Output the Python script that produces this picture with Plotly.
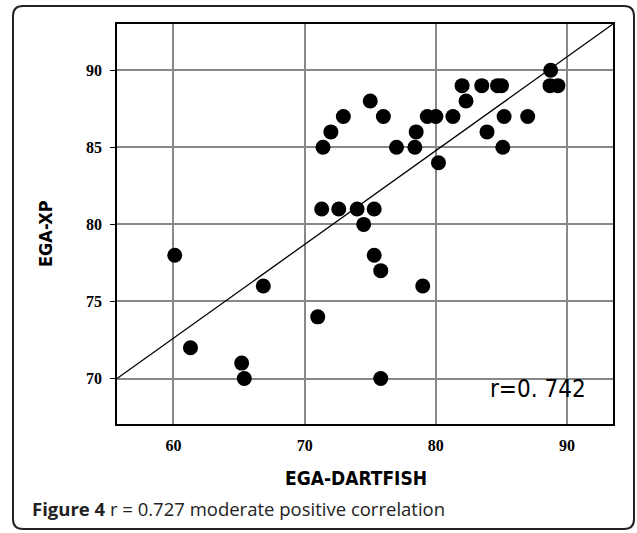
import plotly.graph_objects as go

# Data
ega_dartfish = [60.1, 61.3, 65.2, 65.4, 66.85, 71.0, 71.3, 71.4, 72.0, 72.6,
                72.95, 74.0, 74.5, 75.0, 75.3, 75.3, 75.8, 75.8, 76.0, 77.0,
                78.4, 78.5, 79.0, 79.35, 80.0, 80.2, 81.3, 82.0, 82.3, 83.5,
                83.9, 84.7, 85.0, 85.2, 85.1, 87.0, 88.75, 88.7, 89.3]
ega_xp = [78, 72, 71, 70, 76, 74, 81, 85, 86, 81,
          87, 81, 80, 88, 81, 78, 77, 70, 87, 85,
          85, 86, 76, 87, 87, 84, 87, 89, 88, 89,
          86, 89, 89, 87, 85, 87, 90, 89, 89]
fit_x = [55.7, 93.5]
fit_y = [70.0, 93.0]
x_ticks = [60, 70, 80, 90]
y_ticks = [70, 75, 80, 85, 90]

W, H = 637, 533
L, R, T, B = 117, 24, 24, 109
PW, PH = W - L - R, H - T - B


def px(x):
    return (x - L) / PW


def py(y):
    return (H - B - y) / PH


fig = go.Figure()
fig.add_trace(go.Scatter(x=fit_x, y=fit_y, mode="lines",
                         line=dict(color="black", width=1.3),
                         hoverinfo="skip", showlegend=False))
fig.add_trace(go.Scatter(x=ega_dartfish, y=ega_xp, mode="markers",
                         marker=dict(color="black", size=15),
                         showlegend=False))

# rounded frame around whole figure
x0, x1, y0, y1, r = 13, 634, 6, 529, 10
path = (f"M {px(x0+r)},{py(y0)} L {px(x1-r)},{py(y0)} Q {px(x1)},{py(y0)} {px(x1)},{py(y0+r)} "
        f"L {px(x1)},{py(y1-r)} Q {px(x1)},{py(y1)} {px(x1-r)},{py(y1)} "
        f"L {px(x0+r)},{py(y1)} Q {px(x0)},{py(y1)} {px(x0)},{py(y1-r)} "
        f"L {px(x0)},{py(y0+r)} Q {px(x0)},{py(y0)} {px(x0+r)},{py(y0)} Z")
fig.add_shape(type="path", path=path, xref="paper", yref="paper",
              line=dict(color="#222", width=2), layer="below")

cond = "DejaVu Sans Condensed, Liberation Sans Narrow, sans-serif"
fig.add_annotation(text="EGA-DARTFISH", xref="paper", yref="paper",
                   x=px(356), y=py(478), xanchor="center", yanchor="middle",
                   showarrow=False,
                   font=dict(family=cond, size=19, weight="bold", color="black"))
fig.add_annotation(text="EGA-XP", xref="paper", yref="paper",
                   x=px(45), y=py(234), xanchor="center", yanchor="middle",
                   showarrow=False, textangle=-90,
                   font=dict(family=cond, size=18, weight="bold", color="black"))
fig.add_annotation(text="r=0. 742", xref="paper", yref="paper",
                   x=px(538), y=py(389), xanchor="center", yanchor="middle",
                   showarrow=False,
                   font=dict(family=cond, size=24, color="black"))
fig.add_annotation(text="<b>Figure 4</b> r = 0.727 moderate positive correlation",
                   xref="paper", yref="paper", x=px(30), y=py(508),
                   xanchor="left", yanchor="middle", showarrow=False,
                   font=dict(family="Open Sans, sans-serif", size=18.5, color="#222"))

tick_font = dict(family="Liberation Serif, Times New Roman, serif", size=16,
                 weight="bold", color="black")
fig.update_xaxes(range=[55.7, 93.5], tickvals=x_ticks, showgrid=True,
                 gridcolor="#888", gridwidth=1.5, zeroline=False,
                 showline=True, linecolor="black", linewidth=1.5, mirror=True,
                 ticks="outside", ticklen=6, tickcolor="rgba(0,0,0,0)",
                 tickfont=tick_font)
fig.update_yaxes(range=[67.05, 93.0], tickvals=y_ticks, showgrid=True,
                 gridcolor="#888", gridwidth=1.5, zeroline=False,
                 showline=True, linecolor="black", linewidth=1.5, mirror=True,
                 ticks="outside", ticklen=5, tickcolor="black",
                 ticklabelstandoff=5, tickfont=tick_font)
fig.update_layout(width=W, height=H, margin=dict(l=L, r=R, t=T, b=B),
                  plot_bgcolor="white", paper_bgcolor="white")
fig.write_html("out.html")
